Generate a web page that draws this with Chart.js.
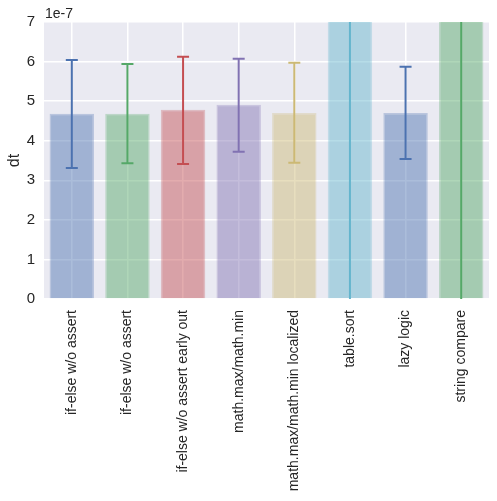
<!DOCTYPE html>
<html><head><meta charset="utf-8">
<script src="https://cdn.jsdelivr.net/npm/chart.js@4/dist/chart.umd.min.js"></script>
<style>html,body{margin:0;padding:0;background:#fff}#wrap{width:497px;height:501px}</style>
</head><body><div id="wrap"><canvas id="c" width="497" height="501"></canvas></div>
<script>
// values in units of 1e-7 seconds
const categories = ['if-else w/o assert','if-else w/o assert','if-else w/o assert early out','math.max/math.min','math.max/math.min localized','table.sort','lazy logic','string compare'];
const means   = [4.68, 4.68, 4.78, 4.91, 4.70, 14.0, 4.70, 16.0];
const errLow  = [3.31, 3.43, 3.41, 3.72, 3.44, -6.0, 3.54, -6.0];
const errHigh = [6.04, 5.94, 6.12, 6.07, 5.97, 34.0, 5.87, 38.0];
const yTicks  = [0,1,2,3,4,5,6,7];
const offsetLabel = '1e-7';
const yTitle = 'dt';

const palette = ['76,114,176','85,168,104','196,78,82','129,114,178','204,185,116','100,181,205','76,114,176','85,168,104'];
const FONT = '"Liberation Sans", Arial, sans-serif';

const errorBars = {
  id:'errorBars',
  afterDatasetsDraw(chart){
    const {ctx, chartArea:a, scales:{x,y}} = chart;
    ctx.save();
    ctx.beginPath(); ctx.rect(a.left, a.top, a.right-a.left, a.bottom-a.top); ctx.clip();
    ctx.lineWidth = 2;
    categories.forEach((c,i)=>{
      const px = x.getPixelForValue(i);
      const y1 = y.getPixelForValue(errLow[i]), y2 = y.getPixelForValue(errHigh[i]);
      ctx.strokeStyle = 'rgb('+palette[i]+')';
      ctx.beginPath(); ctx.moveTo(px,y1); ctx.lineTo(px,y2);
      ctx.moveTo(px-6,y1); ctx.lineTo(px+6,y1);
      ctx.moveTo(px-6,y2); ctx.lineTo(px+6,y2);
      ctx.stroke();
    });
    ctx.restore();
    ctx.save();
    ctx.fillStyle = '#262626'; ctx.font = '14px '+FONT; ctx.textBaseline='alphabetic';
    ctx.fillText(offsetLabel, a.left+1, a.top-4);
    ctx.restore();
  },
  beforeDraw(chart){
    const {ctx, chartArea:a} = chart;
    ctx.save(); ctx.fillStyle='#EAEAF2'; ctx.fillRect(a.left,a.top,a.right-a.left,a.bottom-a.top); ctx.restore();
  }
};

new Chart(document.getElementById('c'), {
  type:'bar',
  data:{labels:categories, datasets:[{
    data:means,
    backgroundColor: palette.map(p=>'rgba('+p+',0.47)'),
    borderColor: palette.map(p=>'rgba('+p+',0.3)'),
    borderWidth:1.5,
    barPercentage:0.8, categoryPercentage:1.0
  }]},
  options:{
    responsive:false, animation:false,
    layout:{padding:{top:22,right:8,left:0,bottom:0}},
    plugins:{legend:{display:false}, tooltip:{enabled:false}},
    scales:{
      x:{
        grid:{color:'#ffffff', lineWidth:1.5, offset:false, drawTicks:false},
        border:{display:false},
        ticks:{color:'#262626', font:{family:FONT,size:14}, minRotation:90, maxRotation:90, autoSkip:false, padding:11},
        afterFit(s){ s.height = 202; }
      },
      y:{
        min:0, max:7,
        afterBuildTicks(s){ s.ticks = yTicks.map(v=>({value:v})); },
        grid:{color:'#ffffff', lineWidth:1.5, drawTicks:false},
        border:{display:false},
        ticks:{color:'#262626', font:{family:FONT,size:15}, padding:9},
        title:{display:true, text:yTitle, color:'#262626', font:{family:FONT,size:16}, padding:{top:5,bottom:4}},
        afterFit(s){ s.width = 44; }
      }
    }
  },
  plugins:[errorBars]
});
</script></body></html>
